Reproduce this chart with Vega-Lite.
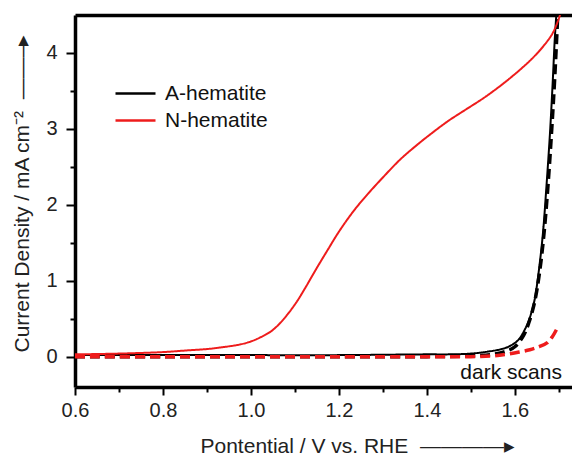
{
  "$schema": "https://vega.github.io/schema/vega-lite/v6.json",
  "width": 497,
  "height": 372,
  "autosize": {"type": "none"},
  "padding": {"left": 75, "top": 15, "right": 0, "bottom": 71},
  "background": "white",
  "config": {
    "view": {"stroke": null},
    "font": "Liberation Sans",
    "axis": {"grid": false, "labelFont": "Liberation Sans", "titleFont": "Liberation Sans"}
  },
  "datasets": {
    "curves": [
      {"sample": "A-hematite", "scan": "light", "v": 0.6, "j": 0.02},
      {"sample": "A-hematite", "scan": "light", "v": 0.8, "j": 0.02},
      {"sample": "A-hematite", "scan": "light", "v": 1.0, "j": 0.02},
      {"sample": "A-hematite", "scan": "light", "v": 1.2, "j": 0.02},
      {"sample": "A-hematite", "scan": "light", "v": 1.4, "j": 0.03},
      {"sample": "A-hematite", "scan": "light", "v": 1.45, "j": 0.03},
      {"sample": "A-hematite", "scan": "light", "v": 1.5, "j": 0.04},
      {"sample": "A-hematite", "scan": "light", "v": 1.543, "j": 0.07},
      {"sample": "A-hematite", "scan": "light", "v": 1.57, "j": 0.1},
      {"sample": "A-hematite", "scan": "light", "v": 1.589, "j": 0.14},
      {"sample": "A-hematite", "scan": "light", "v": 1.608, "j": 0.22},
      {"sample": "A-hematite", "scan": "light", "v": 1.623, "j": 0.36},
      {"sample": "A-hematite", "scan": "light", "v": 1.635, "j": 0.53},
      {"sample": "A-hematite", "scan": "light", "v": 1.645, "j": 0.75},
      {"sample": "A-hematite", "scan": "light", "v": 1.655, "j": 1.15},
      {"sample": "A-hematite", "scan": "light", "v": 1.664, "j": 1.63},
      {"sample": "A-hematite", "scan": "light", "v": 1.672, "j": 2.25},
      {"sample": "A-hematite", "scan": "light", "v": 1.68, "j": 2.95},
      {"sample": "A-hematite", "scan": "light", "v": 1.686, "j": 3.6},
      {"sample": "A-hematite", "scan": "light", "v": 1.691, "j": 4.2},
      {"sample": "A-hematite", "scan": "light", "v": 1.695, "j": 4.55},

      {"sample": "A-hematite", "scan": "dark", "v": 0.6, "j": 0.0},
      {"sample": "A-hematite", "scan": "dark", "v": 0.8, "j": 0.0},
      {"sample": "A-hematite", "scan": "dark", "v": 1.0, "j": 0.0},
      {"sample": "A-hematite", "scan": "dark", "v": 1.2, "j": 0.0},
      {"sample": "A-hematite", "scan": "dark", "v": 1.4, "j": 0.0},
      {"sample": "A-hematite", "scan": "dark", "v": 1.5, "j": 0.01},
      {"sample": "A-hematite", "scan": "dark", "v": 1.55, "j": 0.03},
      {"sample": "A-hematite", "scan": "dark", "v": 1.58, "j": 0.07},
      {"sample": "A-hematite", "scan": "dark", "v": 1.6, "j": 0.13},
      {"sample": "A-hematite", "scan": "dark", "v": 1.62, "j": 0.28},
      {"sample": "A-hematite", "scan": "dark", "v": 1.632, "j": 0.45},
      {"sample": "A-hematite", "scan": "dark", "v": 1.645, "j": 0.72},
      {"sample": "A-hematite", "scan": "dark", "v": 1.656, "j": 1.1},
      {"sample": "A-hematite", "scan": "dark", "v": 1.666, "j": 1.6},
      {"sample": "A-hematite", "scan": "dark", "v": 1.676, "j": 2.3},
      {"sample": "A-hematite", "scan": "dark", "v": 1.684, "j": 3.0},
      {"sample": "A-hematite", "scan": "dark", "v": 1.691, "j": 3.7},
      {"sample": "A-hematite", "scan": "dark", "v": 1.698, "j": 4.55},

      {"sample": "N-hematite", "scan": "dark", "v": 0.6, "j": 0.0},
      {"sample": "N-hematite", "scan": "dark", "v": 0.8, "j": 0.0},
      {"sample": "N-hematite", "scan": "dark", "v": 1.0, "j": 0.0},
      {"sample": "N-hematite", "scan": "dark", "v": 1.2, "j": 0.0},
      {"sample": "N-hematite", "scan": "dark", "v": 1.4, "j": 0.0},
      {"sample": "N-hematite", "scan": "dark", "v": 1.5, "j": 0.0},
      {"sample": "N-hematite", "scan": "dark", "v": 1.55, "j": 0.01},
      {"sample": "N-hematite", "scan": "dark", "v": 1.58, "j": 0.03},
      {"sample": "N-hematite", "scan": "dark", "v": 1.61, "j": 0.06},
      {"sample": "N-hematite", "scan": "dark", "v": 1.634, "j": 0.09},
      {"sample": "N-hematite", "scan": "dark", "v": 1.655, "j": 0.13},
      {"sample": "N-hematite", "scan": "dark", "v": 1.673, "j": 0.18},
      {"sample": "N-hematite", "scan": "dark", "v": 1.685, "j": 0.26},
      {"sample": "N-hematite", "scan": "dark", "v": 1.695, "j": 0.36},

      {"sample": "N-hematite", "scan": "light", "v": 0.6, "j": 0.03},
      {"sample": "N-hematite", "scan": "light", "v": 0.7, "j": 0.04},
      {"sample": "N-hematite", "scan": "light", "v": 0.8, "j": 0.06},
      {"sample": "N-hematite", "scan": "light", "v": 0.85, "j": 0.08},
      {"sample": "N-hematite", "scan": "light", "v": 0.9, "j": 0.1},
      {"sample": "N-hematite", "scan": "light", "v": 0.93, "j": 0.12},
      {"sample": "N-hematite", "scan": "light", "v": 0.975, "j": 0.16},
      {"sample": "N-hematite", "scan": "light", "v": 1.0, "j": 0.2},
      {"sample": "N-hematite", "scan": "light", "v": 1.02, "j": 0.25},
      {"sample": "N-hematite", "scan": "light", "v": 1.045, "j": 0.33},
      {"sample": "N-hematite", "scan": "light", "v": 1.066, "j": 0.44},
      {"sample": "N-hematite", "scan": "light", "v": 1.085, "j": 0.57},
      {"sample": "N-hematite", "scan": "light", "v": 1.105, "j": 0.73},
      {"sample": "N-hematite", "scan": "light", "v": 1.125, "j": 0.92},
      {"sample": "N-hematite", "scan": "light", "v": 1.15, "j": 1.17},
      {"sample": "N-hematite", "scan": "light", "v": 1.175, "j": 1.41},
      {"sample": "N-hematite", "scan": "light", "v": 1.2, "j": 1.645},
      {"sample": "N-hematite", "scan": "light", "v": 1.235, "j": 1.93},
      {"sample": "N-hematite", "scan": "light", "v": 1.27, "j": 2.17},
      {"sample": "N-hematite", "scan": "light", "v": 1.3, "j": 2.36},
      {"sample": "N-hematite", "scan": "light", "v": 1.34, "j": 2.6},
      {"sample": "N-hematite", "scan": "light", "v": 1.38, "j": 2.8},
      {"sample": "N-hematite", "scan": "light", "v": 1.415, "j": 2.96},
      {"sample": "N-hematite", "scan": "light", "v": 1.45, "j": 3.11},
      {"sample": "N-hematite", "scan": "light", "v": 1.49, "j": 3.26},
      {"sample": "N-hematite", "scan": "light", "v": 1.53, "j": 3.41},
      {"sample": "N-hematite", "scan": "light", "v": 1.57, "j": 3.58},
      {"sample": "N-hematite", "scan": "light", "v": 1.61, "j": 3.77},
      {"sample": "N-hematite", "scan": "light", "v": 1.64, "j": 3.93},
      {"sample": "N-hematite", "scan": "light", "v": 1.665, "j": 4.09},
      {"sample": "N-hematite", "scan": "light", "v": 1.685, "j": 4.25},
      {"sample": "N-hematite", "scan": "light", "v": 1.698, "j": 4.42},
      {"sample": "N-hematite", "scan": "light", "v": 1.706, "j": 4.56}
    ]
  },
  "data": {"name": "curves"},
  "resolve": {"axis": {"x": "independent", "y": "independent"}},
  "layer": [
    {
      "mark": {"type": "line", "interpolate": "catmull-rom", "clip": true},
      "encoding": {
        "x": {
          "field": "v", "type": "quantitative",
          "scale": {"domain": [0.6, 1.73], "nice": false, "zero": false},
          "axis": {
            "orient": "bottom",
            "values": [0.6, 0.8, 1.0, 1.2, 1.4, 1.6],
            "format": ".1f",
            "labelFlush": false,
            "labelOverlap": false,
            "domainColor": "#000000", "domainWidth": 3.5,
            "tickColor": "#000000", "tickWidth": 2, "tickSize": 8,
            "labelFontSize": 20, "labelColor": "#222222", "labelPadding": 5,
            "title": "Pontential / V vs. RHE \u00a0————▸",
            "titleFontSize": 21, "titleFontWeight": "normal", "titleColor": "#222222",
            "titleAlign": "left", "titleAnchor": "start", "titleX": 125, "titleY": 65,
            "titleBaseline": "alphabetic"
          }
        },
        "y": {
          "field": "j", "type": "quantitative",
          "scale": {"domain": [-0.4, 4.5], "nice": false, "zero": false},
          "axis": {
            "orient": "left",
            "values": [0, 1, 2, 3, 4],
            "format": "d",
            "labelFlush": false,
            "labelOverlap": false,
            "domainColor": "#000000", "domainWidth": 3.5,
            "tickColor": "#000000", "tickWidth": 2, "tickSize": 9,
            "labelFontSize": 20, "labelColor": "#222222", "labelPadding": 9,
            "title": "Current Density / mA cm⁻² \u00a0——–▸",
            "titleFontSize": 21, "titleFontWeight": "normal", "titleColor": "#222222",
            "titleAngle": -90, "titleAlign": "left", "titleAnchor": "start",
            "titleX": -47, "titleY": 337, "titleBaseline": "alphabetic"
          }
        },
        "color": {
          "field": "sample", "type": "nominal",
          "scale": {"domain": ["A-hematite", "N-hematite"], "range": ["#000000", "#ee1c1c"]},
          "legend": {
            "orient": "none", "legendX": 50, "legendY": 68,
            "title": null, "padding": 0,
            "symbolType": "M-4,0H4", "symbolSize": 100, "symbolStrokeWidth": 2.5,
            "labelFontSize": 21, "labelColor": "#111111", "labelOffset": 19,
            "labelFont": "Liberation Sans", "rowPadding": 5
          }
        },
        "strokeDash": {
          "field": "scan", "type": "nominal",
          "scale": {"domain": ["light", "dark"], "range": [[1, 0], [10, 5]]},
          "legend": null
        },
        "strokeWidth": {
          "field": "scan", "type": "nominal",
          "scale": {"domain": ["light", "dark"], "range": [2, 3.5]},
          "legend": null
        }
      }
    },
    {
      "mark": {"type": "point", "opacity": 0},
      "encoding": {
        "x": {
          "field": "v", "type": "quantitative",
          "axis": {
            "orient": "bottom", "values": [0.7, 0.9, 1.1, 1.3, 1.5, 1.7],
            "labels": false, "domain": false, "title": null,
            "tickColor": "#000000", "tickWidth": 2, "tickSize": 5
          }
        },
        "y": {
          "field": "j", "type": "quantitative",
          "axis": {
            "orient": "left", "values": [0.5, 1.5, 2.5, 3.5],
            "labels": false, "domain": false, "title": null,
            "tickColor": "#000000", "tickWidth": 2, "tickSize": 5
          }
        }
      }
    },
    {
      "mark": {"type": "point", "opacity": 0},
      "encoding": {
        "x": {
          "field": "v", "type": "quantitative",
          "axis": {
            "orient": "top", "ticks": false, "labels": false, "title": null,
            "domainColor": "#000000", "domainWidth": 3.5
          }
        }
      }
    },
    {
      "data": {"values": [{"note": "dark scans"}]},
      "mark": {"type": "text", "align": "right", "baseline": "alphabetic", "fontSize": 21, "color": "#111111", "font": "Liberation Sans"},
      "encoding": {
        "x": {"datum": 1.707, "type": "quantitative", "axis": null},
        "y": {"datum": -0.3, "type": "quantitative", "axis": null},
        "text": {"field": "note"}
      }
    }
  ]
}
